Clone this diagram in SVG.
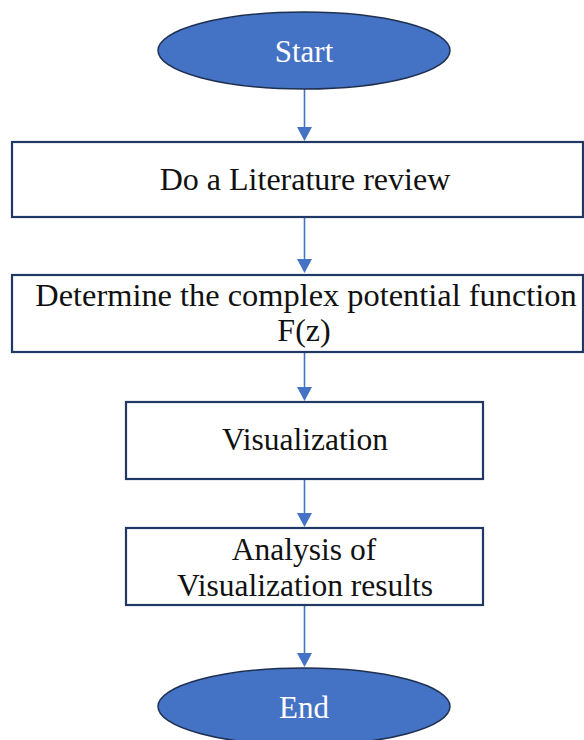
<svg xmlns="http://www.w3.org/2000/svg" width="584" height="740" viewBox="0 0 584 740">
<style>
.term{fill:#4472C4;stroke:#1F2F4F;stroke-width:1.5}
.box{fill:#fff;stroke:#203864;stroke-width:2.2}
text{font-family:'Liberation Serif','Times New Roman',Times,serif;text-anchor:middle}
.t{fill:#111}
.tw{fill:#fff}
.c{stroke:#4472C4;stroke-width:1.6;fill:none}
.ah{fill:#4472C4}
</style>
<rect width="584" height="740" fill="#fff"/>
<g id="connectors">
<line class="c" x1="304.5" y1="89" x2="304.5" y2="130"/>
<polygon class="ah" points="297,127 312,127 304.5,141"/>
<line class="c" x1="304.5" y1="218" x2="304.5" y2="262"/>
<polygon class="ah" points="297,259 312,259 304.5,273"/>
<line class="c" x1="304.5" y1="353" x2="304.5" y2="390"/>
<polygon class="ah" points="297,387 312,387 304.5,401"/>
<line class="c" x1="304.5" y1="480" x2="304.5" y2="516"/>
<polygon class="ah" points="297,513 312,513 304.5,527"/>
<line class="c" x1="304.5" y1="606" x2="304.5" y2="656"/>
<polygon class="ah" points="297,653 312,653 304.5,667"/>
</g>
<g id="start">
<ellipse class="term" cx="304" cy="50.5" rx="146" ry="38.5"/>
<text class="tw" x="304" y="62" font-size="31">Start</text>
</g>
<g id="review">
<rect class="box" x="12" y="142" width="571" height="75"/>
<text class="t" x="305" y="190" font-size="32">Do a Literature review</text>
</g>
<g id="potential">
<rect class="box" x="12" y="275" width="571" height="77"/>
<text class="t" x="306" y="306" font-size="32.4">Determine the complex potential function</text>
<text class="t" x="304" y="341" font-size="32">F(z)</text>
</g>
<g id="visualization">
<rect class="box" x="126" y="402" width="357" height="77"/>
<text class="t" x="305" y="450" font-size="31.5">Visualization</text>
</g>
<g id="analysis">
<rect class="box" x="126" y="528" width="357" height="77"/>
<text class="t" x="304" y="560" font-size="31.5">Analysis of</text>
<text class="t" x="305" y="596" font-size="31.5">Visualization results</text>
</g>
<g id="end">
<ellipse class="term" cx="304" cy="706.5" rx="146" ry="38.5"/>
<text class="tw" x="304" y="718" font-size="31">End</text>
</g>
</svg>
